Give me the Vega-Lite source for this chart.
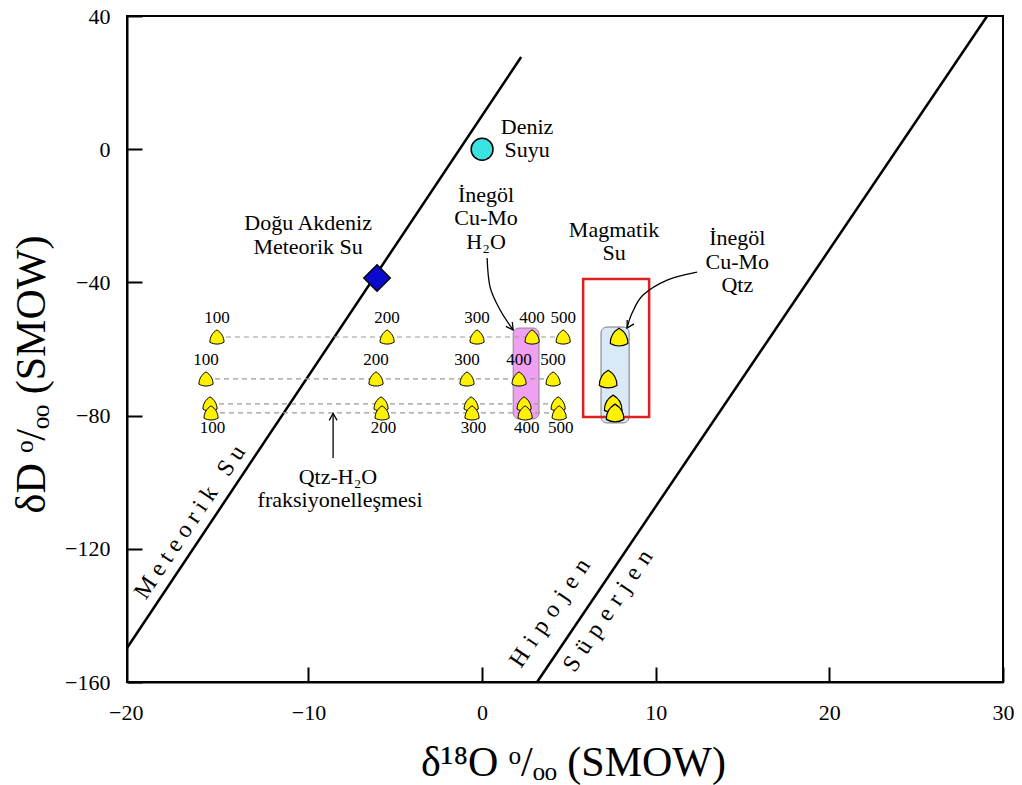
{
  "$schema": "https://vega.github.io/schema/vega-lite/v6.json",
  "width": 876,
  "height": 666,
  "autosize": "none",
  "padding": {"left": 127, "top": 16, "right": 19, "bottom": 103},
  "background": "white",
  "config": {
    "view": {"stroke": "black", "strokeWidth": 2},
    "font": "Liberation Serif, DejaVu Serif",
    "text": {"font": "Liberation Serif, DejaVu Serif", "color": "black"},
    "axis": {
      "grid": false,
      "domainColor": "black",
      "domainWidth": 2,
      "tickColor": "black",
      "tickWidth": 2,
      "tickSize": -15,
      "labelFont": "Liberation Serif, DejaVu Serif",
      "labelFontSize": 22,
      "labelColor": "black",
      "labelFlush": false,
      "labelOverlap": false,
      "titleFont": "Liberation Serif, DejaVu Serif",
      "titleFontSize": 42,
      "titleFontWeight": "normal",
      "titleColor": "black"
    }
  },
  "datasets": {
    "lines": [
      {"line": "Meteorik", "x": -20.45, "y": -149.8},
      {"line": "Meteorik", "x": 2.25, "y": 27.7},
      {"line": "HS", "x": 3.17, "y": -160},
      {"line": "HS", "x": 29.09, "y": 40}
    ],
    "boxes": [
      {"name": "pink", "x": 1.79, "x2": 3.28, "y": -53.7, "y2": -81.0},
      {"name": "blue", "x": 6.85, "x2": 8.47, "y": -53.4, "y2": -82.2},
      {"name": "red", "x": 5.82, "x2": 9.62, "y": -39.0, "y2": -80.4}
    ],
    "frac": [
      {"row": "A", "t": "100", "x": -15.27, "y": -56.4},
      {"row": "A", "t": "200", "x": -5.47, "y": -56.4},
      {"row": "A", "t": "300", "x": -0.29, "y": -56.4},
      {"row": "A", "t": "400", "x": 2.88, "y": -56.4},
      {"row": "A", "t": "500", "x": 4.67, "y": -56.4},
      {"row": "B", "t": "100", "x": -15.9, "y": -69.0},
      {"row": "B", "t": "200", "x": -6.11, "y": -69.0},
      {"row": "B", "t": "300", "x": -0.87, "y": -69.0},
      {"row": "B", "t": "400", "x": 2.13, "y": -69.0},
      {"row": "B", "t": "500", "x": 4.09, "y": -69.0},
      {"row": "C", "t": "100", "x": -15.67, "y": -76.5},
      {"row": "C", "t": "200", "x": -5.82, "y": -76.5},
      {"row": "C", "t": "300", "x": -0.63, "y": -76.5},
      {"row": "C", "t": "400", "x": 2.42, "y": -76.5},
      {"row": "C", "t": "500", "x": 4.38, "y": -76.5},
      {"row": "D", "t": "100", "x": -15.61, "y": -79.2},
      {"row": "D", "t": "200", "x": -5.76, "y": -79.2},
      {"row": "D", "t": "300", "x": -0.58, "y": -79.2},
      {"row": "D", "t": "400", "x": 2.48, "y": -79.2},
      {"row": "D", "t": "500", "x": 4.44, "y": -79.2}
    ],
    "qtz": [
      {"x": 7.89, "y": -56.4},
      {"x": 7.26, "y": -69.0},
      {"x": 7.55, "y": -76.5},
      {"x": 7.66, "y": -79.2}
    ],
    "arrows": [
      {"id": 1, "i": 0, "x": 0.29, "y": -32.7},
      {"id": 1, "i": 1, "x": 0.46, "y": -41.4},
      {"id": 1, "i": 2, "x": 1.04, "y": -48.3},
      {"id": 1, "i": 3, "x": 1.79, "y": -54.3},
      {"id": 2, "i": 0, "x": 12.38, "y": -36.9},
      {"id": 2, "i": 1, "x": 10.66, "y": -39.3},
      {"id": 2, "i": 2, "x": 9.27, "y": -43.8},
      {"id": 2, "i": 3, "x": 8.64, "y": -49.2},
      {"id": 2, "i": 4, "x": 8.35, "y": -53.7},
      {"id": 3, "i": 0, "x": -8.58, "y": -92.7},
      {"id": 3, "i": 1, "x": -8.58, "y": -79.3}
    ],
    "notes": [
      {"text": "Deniz", "x": 2.59, "y": 6.7},
      {"text": "Suyu", "x": 2.59, "y": -0.2},
      {"text": "Doğu Akdeniz", "x": -10.02, "y": -22.2},
      {"text": "Meteorik Su", "x": -10.02, "y": -29.4},
      {"text": "İnegöl", "x": 0.23, "y": -13.8},
      {"text": "Cu-Mo", "x": 0.23, "y": -20.7},
      {"text": "H₂O", "x": 0.23, "y": -27.9},
      {"text": "Magmatik", "x": 7.6, "y": -24.3},
      {"text": "Su", "x": 7.6, "y": -31.2},
      {"text": "İnegöl", "x": 14.7, "y": -26.7},
      {"text": "Cu-Mo", "x": 14.7, "y": -33.9},
      {"text": "Qtz", "x": 14.7, "y": -40.8},
      {"text": "Qtz-H₂O", "x": -8.3, "y": -98.4},
      {"text": "fraksiyonelleşmesi", "x": -8.18, "y": -105.3}
    ],
    "rot": [
      {"text": "M\u00a0e\u00a0t\u00a0e\u00a0o\u00a0r\u00a0i\u00a0k\u00a0\u00a0\u00a0S\u00a0u", "x": -16.82, "y": -112.0},
      {"text": "H\u00a0\u200ai\u00a0\u200ap\u00a0\u200ao\u00a0\u200aj\u00a0\u200ae\u00a0\u200an", "x": 3.92, "y": -139.3},
      {"text": "S\u00a0\u200aü\u00a0\u200ap\u00a0\u200ae\u00a0\u200ar\u00a0\u200aj\u00a0\u200ae\u00a0\u200an", "x": 7.26, "y": -138.7}
    ]
  },
  "encoding": {
    "x": {
      "field": "x",
      "type": "quantitative",
      "scale": {"domain": [-20.45, 30], "nice": false, "zero": false},
      "axis": {
        "values": [-20, -10, 0, 10, 20, 30],
        "labelPadding": 35,
        "tickOpacity": {"condition": {"test": "datum.value == -20", "value": 0}, "value": 1},
        "labelOffset": {"condition": {"test": "datum.value == -20", "value": -9}, "value": 0},
        "title": "δ¹⁸O ᵒ/ₒₒ (SMOW)",
        "titleX": 446,
        "titleY": 93,
        "titleAlign": "center",
        "titleBaseline": "alphabetic",
        "titleAnchor": null
      }
    },
    "y": {
      "field": "y",
      "type": "quantitative",
      "scale": {"domain": [-160, 40], "nice": false, "zero": false},
      "axis": {
        "values": [-160, -120, -80, -40, 0, 40],
        "labelPadding": 32,
        "title": "δD ᵒ/ₒₒ (SMOW)",
        "titleAngle": 270,
        "titleX": -83,
        "titleY": 358,
        "titleAlign": "center",
        "titleBaseline": "alphabetic",
        "titleAnchor": null
      }
    }
  },
  "layer": [
    {
      "data": {"name": "lines"},
      "mark": {"type": "line", "color": "black", "strokeWidth": 2.5},
      "encoding": {"detail": {"field": "line"}}
    },
    {
      "data": {"name": "boxes"},
      "transform": [{"filter": "datum.name == 'pink'"}],
      "mark": {"type": "rect", "fill": "#F0A0F0", "stroke": "#8a8a8a", "strokeWidth": 1, "cornerRadius": 6},
      "encoding": {"x2": {"field": "x2"}, "y2": {"field": "y2"}}
    },
    {
      "data": {"name": "boxes"},
      "transform": [{"filter": "datum.name == 'blue'"}],
      "mark": {"type": "rect", "fill": "#D9E9F8", "stroke": "#7a7a7a", "strokeWidth": 1, "cornerRadius": 6},
      "encoding": {"x2": {"field": "x2"}, "y2": {"field": "y2"}}
    },
    {
      "data": {"name": "frac"},
      "mark": {"type": "line", "color": "#9a9a9a", "strokeWidth": 1.2, "strokeDash": [5, 4]},
      "encoding": {"detail": {"field": "row"}}
    },
    {
      "data": {"name": "boxes"},
      "transform": [{"filter": "datum.name == 'red'"}],
      "mark": {"type": "rect", "fill": null, "fillOpacity": 0, "stroke": "#E02020", "strokeWidth": 2.5},
      "encoding": {"x2": {"field": "x2"}, "y2": {"field": "y2"}}
    },
    {
      "data": {"name": "frac"},
      "mark": {"type": "point", "shape": "M0,-1 A2,2,0,0,1,1,0.732 A2,2,0,0,1,-1,0.732 A2,2,0,0,1,0,-1 Z", "filled": true, "fill": "#FFF200", "stroke": "black", "strokeWidth": 1, "size": 200, "opacity": 1}
    },
    {
      "data": {"name": "qtz"},
      "mark": {"type": "point", "shape": "M0,-1 A2,2,0,0,1,1,0.732 A2,2,0,0,1,-1,0.732 A2,2,0,0,1,0,-1 Z", "filled": true, "fill": "#FFF200", "stroke": "black", "strokeWidth": 1.2, "size": 310, "opacity": 1}
    },
    {
      "data": {"values": [{"x": 0, "y": 0}]},
      "mark": {"type": "point", "shape": "circle", "filled": true, "fill": "#3BE3E3", "stroke": "black", "strokeWidth": 1.5, "size": 480, "opacity": 1}
    },
    {
      "data": {"values": [{"x": -6.05, "y": -38.7}]},
      "mark": {"type": "point", "shape": "diamond", "filled": true, "fill": "#0A0ACC", "stroke": "black", "strokeWidth": 1.5, "size": 700, "opacity": 1}
    },
    {
      "data": {"name": "frac"},
      "transform": [{"filter": "datum.row == 'A' || datum.row == 'B'"}],
      "mark": {"type": "text", "dy": -19, "fontSize": 17, "font": "Liberation Serif, DejaVu Serif", "color": "black"},
      "encoding": {"text": {"field": "t", "type": "nominal"}}
    },
    {
      "data": {"name": "frac"},
      "transform": [{"filter": "datum.row == 'D'"}],
      "mark": {"type": "text", "dy": 15, "dx": 1.5, "fontSize": 17, "font": "Liberation Serif, DejaVu Serif", "color": "black"},
      "encoding": {"text": {"field": "t", "type": "nominal"}}
    },
    {
      "data": {"name": "arrows"},
      "mark": {"type": "line", "color": "black", "strokeWidth": 1.3, "interpolate": "cardinal"},
      "encoding": {"detail": {"field": "id"}, "order": {"field": "i", "type": "quantitative"}}
    },
    {
      "data": {"values": [{"x": 1.79, "y": -54.3}]},
      "mark": {"type": "point", "shape": "M-0.55,1 L0,0 L0.55,1", "filled": false, "color": "black", "strokeWidth": 1.3, "size": 200, "angle": 145, "opacity": 1}
    },
    {
      "data": {"values": [{"x": 8.35, "y": -53.7}]},
      "mark": {"type": "point", "shape": "M-0.55,1 L0,0 L0.55,1", "filled": false, "color": "black", "strokeWidth": 1.3, "size": 200, "angle": 210, "opacity": 1}
    },
    {
      "data": {"values": [{"x": -8.58, "y": -79.3}]},
      "mark": {"type": "point", "shape": "M-0.55,1 L0,0 L0.55,1", "filled": false, "color": "black", "strokeWidth": 1.3, "size": 200, "angle": 0, "opacity": 1}
    },
    {
      "data": {"name": "notes"},
      "mark": {"type": "text", "fontSize": 22, "font": "Liberation Serif, DejaVu Serif", "color": "black", "align": "center", "baseline": "middle"},
      "encoding": {"text": {"field": "text", "type": "nominal"}}
    },
    {
      "data": {"name": "rot"},
      "mark": {"type": "text", "fontSize": 24, "font": "Liberation Serif, DejaVu Serif", "color": "black", "align": "center", "baseline": "middle", "angle": 304},
      "encoding": {"text": {"field": "text", "type": "nominal"}}
    }
  ]
}
